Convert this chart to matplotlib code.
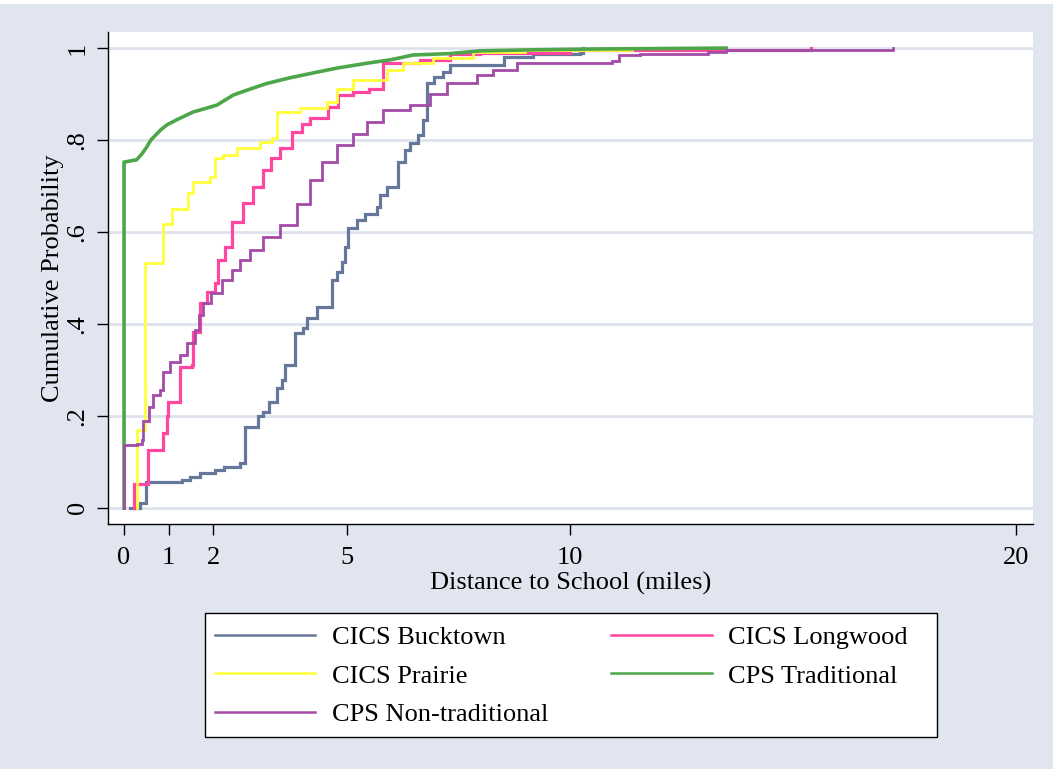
import matplotlib
matplotlib.use("Agg")
import matplotlib.pyplot as plt
from matplotlib.patches import Rectangle

plt.rcParams['font.family'] = ['Liberation Serif', 'DejaVu Serif']

# ---------------- data ----------------
bucktown_x = [0.13, 0.36, 0.49, 1.29, 1.48, 1.70, 2.04, 2.23, 2.60, 2.71, 3.01, 3.12, 3.24, 3.42,
              3.54, 3.61, 3.83, 4.02, 4.10, 4.32, 4.66, 4.77, 4.88, 4.96, 5.03, 5.22, 5.40, 5.67,
              5.74, 5.89, 6.15, 6.30, 6.41, 6.60, 6.71, 6.79, 6.94, 7.16, 7.31, 8.51, 9.17, 10.22, 10.3]
bucktown_y = [0.0, 0.01, 0.057, 0.061, 0.068, 0.075, 0.083, 0.09, 0.097, 0.177, 0.199, 0.209, 0.231, 0.26,
              0.278, 0.311, 0.38, 0.391, 0.412, 0.438, 0.496, 0.514, 0.535, 0.568, 0.608, 0.626, 0.64, 0.655,
              0.68, 0.698, 0.753, 0.778, 0.793, 0.811, 0.843, 0.923, 0.938, 0.948, 0.963, 0.981, 0.987, 0.99, 1.0]

longwood_x = [0.23, 0.23, 0.53, 0.88, 0.96, 0.99, 1.26, 1.52, 1.55, 1.70, 1.85, 2.04, 2.11, 2.26, 2.41,
              2.67, 2.90, 3.12, 3.30, 3.50, 3.76, 4.00, 4.17, 4.58, 4.80, 5.14, 5.50, 5.80, 6.64, 7.30,
              7.98, 10.0, 15.4]
longwood_y = [0.0, 0.052, 0.125, 0.162, 0.199, 0.231, 0.307, 0.311, 0.383, 0.445, 0.47, 0.489, 0.539, 0.568, 0.622,
              0.663, 0.698, 0.735, 0.76, 0.782, 0.818, 0.835, 0.848, 0.872, 0.898, 0.905, 0.912, 0.967, 0.974, 0.988,
              0.99, 0.995, 1.0]

prairie_x = [0.28, 0.28, 0.47, 0.88, 1.07, 1.44, 1.55, 1.93, 2.04, 2.22, 2.53, 3.05, 3.31, 3.42, 3.95,
             4.54, 4.77, 5.14, 5.89, 6.26, 6.93, 7.83, 9.0, 11.4]
prairie_y = [0.0, 0.17, 0.532, 0.617, 0.65, 0.684, 0.709, 0.72, 0.76, 0.767, 0.782, 0.796, 0.804, 0.862, 0.87,
             0.883, 0.912, 0.93, 0.952, 0.967, 0.978, 0.992, 0.996, 1.0]

traditional_x = [0.0, 0.0, 0.28, 0.40, 0.51, 0.60, 0.70, 0.82, 0.96, 1.20, 1.55, 1.80, 2.08, 2.45, 2.80,
                 3.20, 3.70, 4.24, 4.80, 5.44, 6.00, 6.48, 7.30, 7.98, 9.0, 10.5, 12.0, 13.5]
traditional_y = [0.0, 0.752, 0.757, 0.77, 0.785, 0.80, 0.81, 0.822, 0.833, 0.845, 0.861, 0.868, 0.876, 0.898, 0.91,
                 0.923, 0.935, 0.946, 0.957, 0.967, 0.975, 0.985, 0.988, 0.994, 0.996, 0.998, 0.999, 1.0]

nontrad_x = [0.0, 0.0, 0.28, 0.40, 0.43, 0.55, 0.66, 0.81, 0.88, 1.03, 1.26, 1.41, 1.59, 1.67, 1.78, 1.96,
             2.19, 2.41, 2.60, 2.83, 3.12, 3.50, 3.87, 4.17, 4.43, 4.77, 5.14, 5.44, 5.81, 6.41, 6.86, 7.24,
             7.91, 8.28, 8.80, 10.93, 11.1, 11.57, 13.1, 13.5, 17.25]
nontrad_y = [0.0, 0.137, 0.14, 0.148, 0.188, 0.22, 0.246, 0.257, 0.296, 0.318, 0.333, 0.358, 0.387, 0.42, 0.445, 0.467,
             0.496, 0.517, 0.539, 0.561, 0.59, 0.615, 0.662, 0.713, 0.753, 0.789, 0.814, 0.84, 0.865, 0.876, 0.9, 0.925,
             0.941, 0.952, 0.967, 0.973, 0.985, 0.988, 0.992, 0.996, 1.0]

x_ticks = [0, 1, 2, 5, 10, 20]
x_tick_labels = ["0", "1", "2", "5", "10", "20"]
y_ticks = [0, 0.2, 0.4, 0.6, 0.8, 1.0]
y_tick_labels = ["0", ".2", ".4", ".6", ".8", "1"]

# ---------------- styling ----------------
BG = "#e0e5ef"
GRID = "#dde2ec"
FS = 19
W, H = 1053, 769

fig = plt.figure(figsize=(10.53, 7.69), dpi=100, facecolor=BG)
# thin white strip at the very top (cut-off title area)
fig.patches.append(Rectangle((0, 1 - 4 / H), 1, 4 / H, transform=fig.transFigure,
                             facecolor="white", edgecolor="none"))

ax = fig.add_axes([108 / W, 1 - 524 / H, (1033 - 108) / W, (524 - 32) / H])
ax.set_facecolor("white")

series = [
    ("CICS Bucktown", bucktown_x, bucktown_y, "#65789c", "steps-post", 2.3),
    ("CICS Longwood", longwood_x, longwood_y, "#ff46a0", "steps-post", 2.3),
    ("CICS Prairie", prairie_x, prairie_y, "#ffff3a", "steps-post", 2.0),
    ("CPS Traditional", traditional_x, traditional_y, "#4ea64b", "default", 2.6),
    ("CPS Non-traditional", nontrad_x, nontrad_y, "#a24ca8", "steps-post", 2.0),
]
handles = {}
for name, xs, ys, col, ds, lw in series:
    ln, = ax.plot(xs, ys, color=col, lw=lw, drawstyle=ds, solid_joinstyle="miter", zorder=3)
    handles[name] = ln

ax.set_xlim(-0.36, 20.38)
ax.set_ylim(-0.035, 1.035)

ax.set_yticks(y_ticks)
ax.set_yticklabels(y_tick_labels, rotation=90, va="center", fontsize=FS)
ax.set_xticks(x_ticks)
ax.set_xticklabels(x_tick_labels, fontsize=FS)
ax.tick_params(axis="both", direction="out", length=8, width=1.0, color="black")
ax.tick_params(axis="y", pad=6)
ax.tick_params(axis="x", pad=8.5)

ax.grid(axis="y", color=GRID, lw=2.0, zorder=0)
ax.set_axisbelow(True)
for s in ["top", "right"]:
    ax.spines[s].set_visible(False)
for s in ["left", "bottom"]:
    ax.spines[s].set_color("black")
    ax.spines[s].set_linewidth(1.0)

ax.set_xlabel("Distance to School (miles)", fontsize=FS, labelpad=2)
ax.set_ylabel("Cumulative Probability", fontsize=FS, labelpad=2)

# legend box drawn separately, legend entries without frame
fig.patches.append(Rectangle((205 / W, 1 - 737 / H), (937 - 205) / W, (737 - 613) / H,
                             transform=fig.transFigure, facecolor="white",
                             edgecolor="black", lw=1.0, zorder=1))
order = ["CICS Bucktown", "CICS Prairie", "CPS Non-traditional", "CICS Longwood", "CPS Traditional"]
leg_handles = [plt.Line2D([], [], color=handles[n].get_color(), lw=1.8) for n in order]
leg = fig.legend(leg_handles, order, ncol=2, loc="upper left",
                 bbox_to_anchor=(215 / W, 1 - 626 / H),
                 fontsize=FS, frameon=False,
                 handlelength=3.8, handletextpad=0.62, labelspacing=0.56,
                 borderpad=0.0, borderaxespad=0.0, columnspacing=2.4)
leg.set_zorder(5)

fig.savefig("out.png", dpi=100, facecolor=BG)
